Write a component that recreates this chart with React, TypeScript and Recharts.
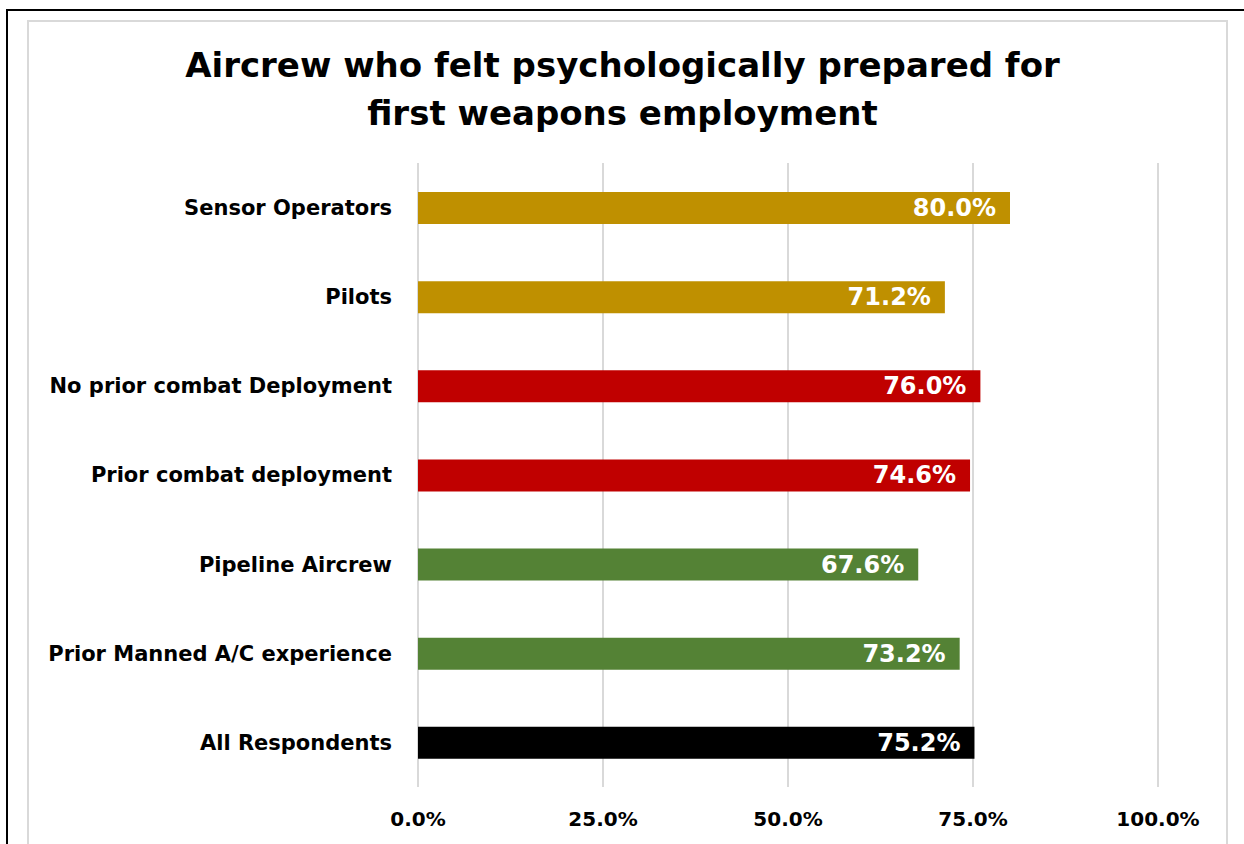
import React from 'react';
import { BarChart, Bar, XAxis, YAxis, CartesianGrid, Cell, LabelList } from 'recharts';

const categories = [
    'Sensor Operators',
    'Pilots',
    'No prior combat Deployment',
    'Prior combat deployment',
    'Pipeline Aircrew',
    'Prior Manned A/C experience',
    'All Respondents',
];
const percents = [80.0, 71.2, 76.0, 74.6, 67.6, 73.2, 75.2];
const barColors = ['#BF9000', '#BF9000', '#C00000', '#C00000', '#548235', '#548235', '#000000'];
const xTicks = [0, 25, 50, 75, 100];

const data = categories.map((name, i) => ({ name, value: percents[i] }));

const fmt = (v: number) => `${v.toFixed(1)}%`;
const FONT = "'DejaVu Sans', Verdana, sans-serif";

const ValueLabel = (props: any) => {
    const { x, y, width, height, value } = props;
    return (
        <text
            x={x + width - 14}
            y={y + height / 2}
            textAnchor="end"
            dominantBaseline="central"
            fill="#fff"
            fontFamily={FONT}
            fontWeight={700}
            fontSize={24}
        >
            {fmt(value)}
        </text>
    );
};

const App: React.FC = () => {
    return (
        <div style={{ position: 'fixed', left: 0, top: 0, width: 1244, height: 844, background: '#fff', overflow: 'hidden' }}>
            <div style={{ position: 'absolute', left: 6, top: 9, width: 1300, height: 900, borderLeft: '2px solid #000', borderTop: '2px solid #000' }} />
            <div style={{ position: 'absolute', left: 27, top: 20, width: 1197, height: 900, border: '2px solid #D9D9D9' }} />
            <div
                style={{
                    position: 'absolute', left: 0, top: 41, width: 1245, textAlign: 'center',
                    fontFamily: FONT, fontWeight: 700, fontSize: 34, lineHeight: '48px', color: '#000',
                }}
            >
                Aircrew who felt psychologically prepared for<br />first weapons employment
            </div>
            <div style={{ position: 'absolute', left: 0, top: 0 }}>
                <BarChart
                    width={1244}
                    height={844}
                    data={data}
                    layout="vertical"
                    barSize={32}
                    margin={{ top: 163, right: 86, left: 0, bottom: 17 }}
                >
                    <CartesianGrid horizontal={false} stroke="#D9D9D9" strokeWidth={2} />
                    <XAxis
                        type="number"
                        domain={[0, 100]}
                        ticks={xTicks}
                        tickFormatter={fmt}
                        axisLine={false}
                        tickLine={false}
                        tickSize={0}
                        tickMargin={25}
                        height={40}
                        tick={{ fontFamily: FONT, fontWeight: 700, fontSize: 20, fill: '#000' }}
                    />
                    <YAxis
                        type="category"
                        dataKey="name"
                        width={418}
                        axisLine={false}
                        tickLine={false}
                        tickSize={0}
                        tickMargin={26}
                        interval={0}
                        tick={{ fontFamily: FONT, fontWeight: 700, fontSize: 21, fill: '#000' }}
                    />
                    <Bar dataKey="value" isAnimationActive={false}>
                        {data.map((d, i) => (
                            <Cell key={d.name} fill={barColors[i]} />
                        ))}
                        <LabelList dataKey="value" content={ValueLabel} />
                    </Bar>
                </BarChart>
            </div>
        </div>
    );
};

export default App;
